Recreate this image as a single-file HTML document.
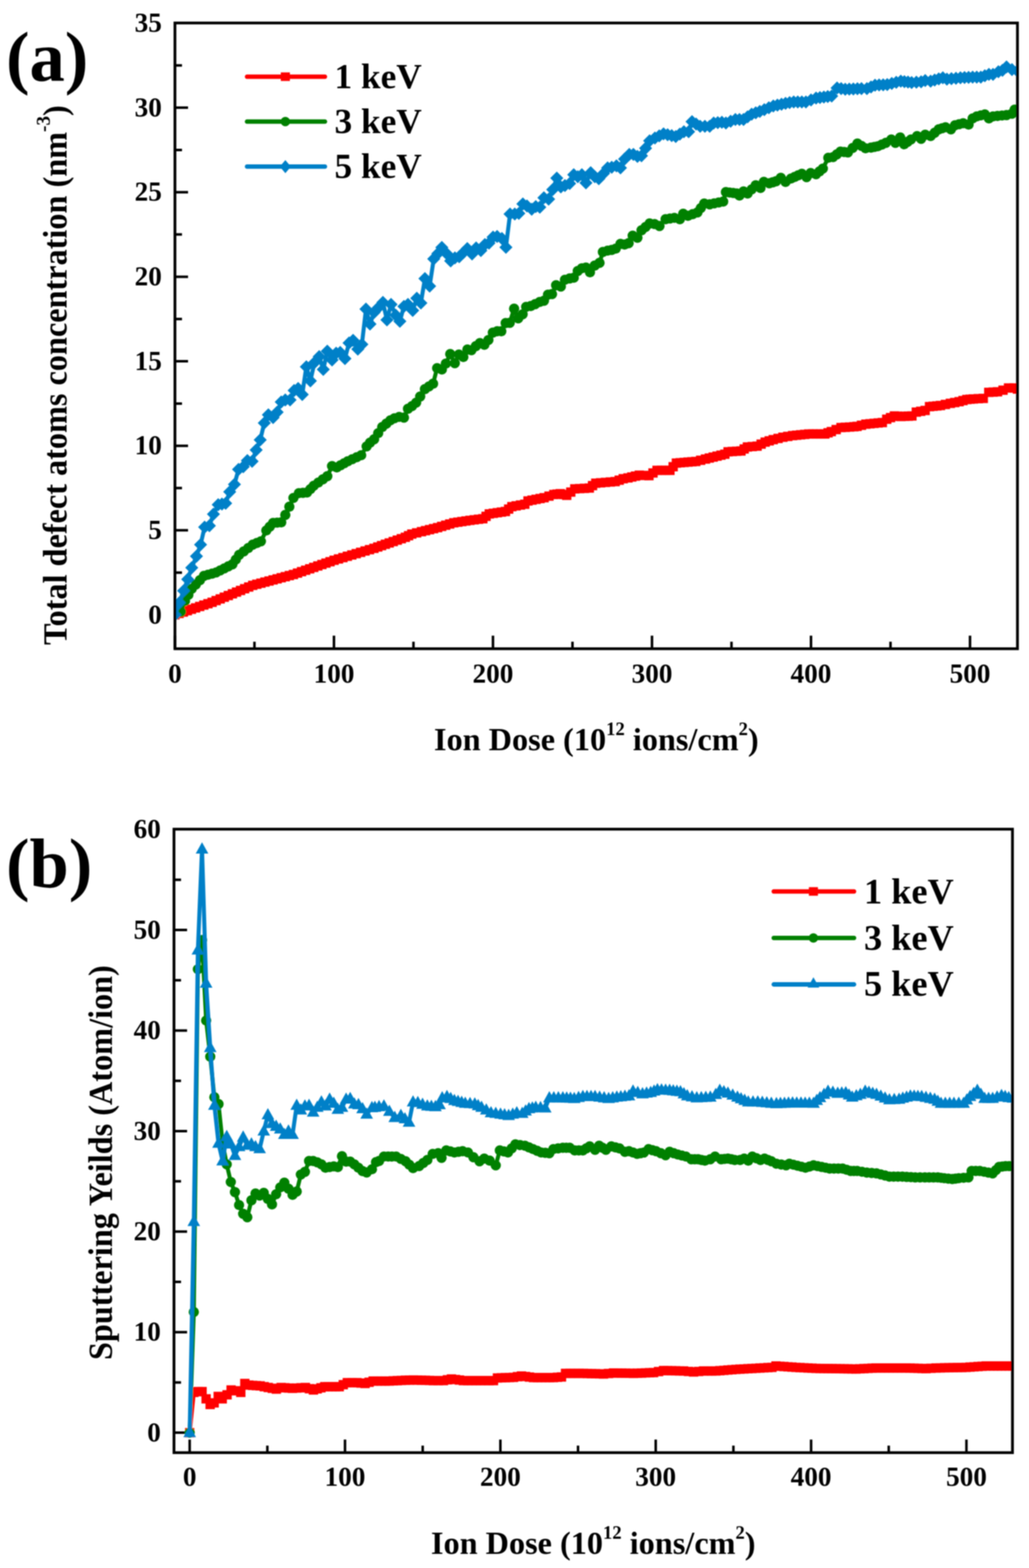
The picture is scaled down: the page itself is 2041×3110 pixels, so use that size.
<!DOCTYPE html>
<html lang="en"><head><meta charset="utf-8"><title>Defect concentration and sputtering yields vs ion dose</title>
<style>
html,body{margin:0;padding:0;background:#fff;}
body{width:2041px;height:3110px;overflow:hidden;}
svg{display:block;}
text{font-family:"Liberation Serif",serif;font-weight:bold;fill:#000;}
.tk{font-size:54px;}
.xt{font-size:64px;}
.yt{font-size:64px;}
.la{font-size:70px;}
.lb{font-size:72px;}
.pl{font-size:140px;}
.fr{fill:none;stroke:#000;stroke-width:5.5;stroke-linejoin:miter;}
.ti{fill:none;stroke:#000;stroke-width:5;stroke-linecap:butt;}
.cv{fill:none;stroke-width:8;stroke-linejoin:round;stroke-linecap:round;}
.lg{fill:none;stroke-width:8.8;stroke-linecap:round;}
</style></head><body>
<svg width="2041" height="3110" viewBox="0 0 2041 3110">
<rect x="0" y="0" width="2041" height="3110" fill="#ffffff"/>
<defs>
<filter id="soft" filterUnits="userSpaceOnUse" x="0" y="0" width="2041" height="3110"><feGaussianBlur stdDeviation="0.8"/></filter>
<marker id="mS" markerUnits="userSpaceOnUse" markerWidth="20" markerHeight="20" refX="10" refY="10" overflow="visible"><rect x="0.75" y="0.75" width="18.5" height="18.5" fill="#ff0000"/></marker>
<marker id="mC" markerUnits="userSpaceOnUse" markerWidth="24" markerHeight="24" refX="12" refY="12" overflow="visible"><circle cx="12" cy="12" r="10.2" fill="#008000"/></marker>
<marker id="mD" markerUnits="userSpaceOnUse" markerWidth="30" markerHeight="30" refX="15" refY="15" overflow="visible"><path d="M15 2 L28 15 L15 28 L2 15 Z" fill="#0080c8"/></marker>
<marker id="mT" markerUnits="userSpaceOnUse" markerWidth="30" markerHeight="30" refX="15" refY="15" overflow="visible"><path d="M15 1.5 L27.5 23.8 L2.5 23.8 Z" fill="#0080c8"/></marker>
<clipPath id="ca"><rect x="347" y="45.6" width="1671" height="1240.7"/></clipPath>
<clipPath id="cb"><rect x="345.1" y="1644.6" width="1663.2" height="1236.4"/></clipPath>
</defs>
<g filter="url(#soft)">
<g id="plot-a">
<path class="ti" d="M347 1219.5 h26 M347 1051.8 h26 M347 884.2 h26 M347 716.5 h26 M347 548.9 h26 M347 381.2 h26 M347 213.6 h26 M347 1135.7 h14 M347 968 h14 M347 800.4 h14 M347 632.7 h14 M347 465.1 h14 M347 297.4 h14 M347 129.8 h14 M347 1286.7 v-26 M662.4 1286.7 v-26 M977.8 1286.7 v-26 M1293.2 1286.7 v-26 M1608.6 1286.7 v-26 M1924 1286.7 v-26 M504.7 1286.7 v-14 M820.1 1286.7 v-14 M1135.5 1286.7 v-14 M1450.9 1286.7 v-14 M1766.3 1286.7 v-14"/>
<g clip-path="url(#ca)">
<polyline class="cv" stroke="#ff0000" marker-start="url(#mS)" marker-mid="url(#mS)" marker-end="url(#mS)" points="347,1219.5 355.2,1216.7 363.4,1214 371.6,1211.2 379.7,1208.4 387.9,1205.7 396.1,1202.9 404.3,1200.1 412.5,1197.4 420.7,1194.6 428.7,1191.2 436.8,1187.9 444.9,1184.5 452.9,1181.2 461,1177.8 469.1,1174.4 477.1,1171.1 485.2,1167.7 493.3,1164.3 501.3,1161 509.4,1158.8 517.5,1156.7 525.5,1154.5 533.6,1152.4 541.7,1150.2 549.7,1148.1 557.8,1145.9 565.9,1143.8 573.9,1141.6 582,1139.5 590.1,1136.7 598.1,1133.8 606.2,1131 614.3,1128.2 622.3,1125.4 630.4,1122.5 638.5,1119.7 646.5,1116.9 654.6,1114.1 662.7,1111.2 671.4,1108.6 680.2,1106 689,1103.3 697.8,1100.7 706.6,1098.1 715.3,1095.5 724.1,1092.8 732.9,1090.2 741.7,1087.6 749.3,1084.9 756.8,1082.2 764.4,1079.5 772,1076.9 780,1074.1 788,1071.3 796,1068.5 804,1065.7 810.4,1062.5 816.8,1059.3 826.4,1056.9 836,1054.5 844,1052.5 852,1050.5 860,1048.5 868,1046.5 876,1044.1 884,1041.7 892,1039.3 900.1,1036.9 908.1,1035.7 916.1,1034.5 924.1,1033.3 932.1,1032.1 940.6,1031 949.1,1029.9 957.7,1028.9 964.1,1024.1 970.5,1019.3 978.5,1018.1 986.5,1016.9 994.5,1015.7 1002.5,1014.5 1008.9,1009.7 1015.3,1004.9 1023.8,1003.3 1032.4,1001.7 1040.9,1000.1 1047.3,993.6 1055.3,992 1063.3,990.4 1071.3,988.8 1079.3,987.2 1088.9,984 1098.5,980.8 1104.9,980 1111.3,979.2 1117.7,980.8 1124.1,982.4 1132.1,976 1140.1,969.6 1149.7,969.1 1159.3,968.6 1168.9,968 1175.3,963.2 1181.7,958.4 1191.3,957.6 1200.9,956.8 1210.6,956 1220.2,955.2 1228.2,952.4 1236.2,949.5 1245.6,947.9 1253.1,946.1 1260.5,944.3 1268,942.5 1277.6,943 1287.2,943.4 1295.2,938.1 1303.2,932.9 1311.8,932.9 1320.3,932.9 1328.8,932.9 1335.2,925.7 1341.6,918.5 1349.3,917.8 1357,917.2 1364.7,916.5 1372.4,915.9 1380.1,915.3 1389.7,912.9 1399.3,910.5 1406.9,908.5 1414.6,906.6 1422.3,904.7 1430,902.8 1437.7,900.9 1444.1,896.1 1452.6,895.5 1461.1,895 1469.7,894.5 1476.1,890.5 1482.5,886.5 1492.1,885.7 1501.7,884.9 1509.7,880.9 1517.7,876.9 1525.7,874.4 1533.7,872 1543.3,869.6 1552.9,867.2 1562.5,865.6 1572.1,864 1580.1,863.2 1588.1,862.4 1596.1,861.6 1604.1,860.8 1612.1,860.8 1620.1,860.8 1628.1,860.8 1636.1,860.8 1642.5,858.4 1648.9,856 1658.5,852 1668.1,848 1676.7,847.5 1685.2,847 1693.8,846.4 1700,845.7 1708.7,843.5 1717.4,841.3 1725.6,840.5 1733.7,839.7 1741.9,838.9 1750.1,838.1 1758.8,831.5 1766.4,828.3 1774,825 1780.5,825.6 1787.1,826.1 1794.3,825.7 1801.6,825.4 1808.8,825 1817.5,817.4 1826.2,815.8 1835,814.1 1843.7,806.5 1850.9,805.8 1858.2,805.1 1865.4,804.3 1875.2,802.2 1885,800 1893.7,798.4 1902.4,796.7 1910.1,794.5 1917.7,792.4 1924.2,791.8 1930.7,791.3 1940.5,790.7 1950.3,790.2 1961.2,778.2 1969.9,777.7 1978.6,777.1 1989.5,773.9 2000.4,769.5 2011.3,769.5 2018.1,771.7"/>
<polyline class="cv" stroke="#008000" marker-start="url(#mC)" marker-mid="url(#mC)" marker-end="url(#mC)" points="347,1219.5 358.8,1213.4 366.9,1191.9 373.6,1179.8 380.3,1167.7 388.4,1159.2 396.5,1150.7 404.5,1142.2 412.6,1139.9 420.7,1137.7 428.7,1135.4 436.8,1131.4 444.9,1127.4 452.9,1123.3 461,1119.3 467.7,1109.9 474.4,1100.5 483.4,1093.8 492.4,1087 501.3,1080.3 509.4,1077 517.5,1073.6 528.2,1052.1 534.9,1044.7 541.7,1037.3 549.7,1036.6 557.8,1036 565.9,1021.2 573.9,1005 582,987.6 592.8,978.1 600.8,977.5 608.9,976.8 615.6,970.1 622.3,963.4 631.3,957.1 640.3,950.8 649.2,944.5 658.6,924.4 668,927.1 675.2,923 682.4,919 689.6,915 698.5,910.9 707.5,906.9 716.4,902.9 727.2,885.4 733.9,878 742,871.2 750.1,859.1 758.1,847 766.2,840.3 774.3,833.6 782.3,829.6 791.7,826.9 801.2,828.2 809.2,810.7 817.3,805.4 825.4,798.6 833.4,786.5 842.8,771.7 850.9,766.4 859,761 867,730.1 876.4,732.8 884.3,721.1 893,702.3 902.1,720.4 910.2,703.3 919,708.1 927.1,693.3 935.1,694.6 943.9,686.5 951.9,680.5 960.7,683.9 968.7,674.4 977.5,659.7 986.2,657 994.3,657 1003,640.8 1011.1,640.2 1019.7,612.3 1027.9,631.4 1036.6,623.4 1043.6,608.6 1052.7,607 1061.4,603.3 1070.5,598.9 1078.9,596.5 1087,584.4 1094.9,583.2 1103,565.7 1112.4,568.4 1120.5,554.9 1129.9,552.2 1138,550.9 1146,537.5 1154.1,532.1 1162.2,530.7 1170.2,540.1 1179.6,526.7 1189.1,521.3 1195.8,499.8 1205.2,497.1 1213.3,495.8 1221.3,493.1 1230.7,483.7 1238.8,485 1246.9,482.3 1254.9,467.5 1264.3,471.6 1272.4,456.8 1280.5,450.1 1288.5,443.3 1298.3,444.4 1308.1,448.2 1320.2,434.8 1328.9,433.4 1337.6,432.1 1348.4,434.8 1355.1,424 1364.5,428 1373.9,424.7 1383.4,421.3 1390.1,412.6 1396.8,403.8 1407.6,405.2 1416.5,403.4 1425.5,401.6 1434.4,399.8 1439.8,381 1447,381.9 1454.2,382.8 1461.3,383.7 1466.7,387.7 1474.8,379.6 1482.8,383.7 1490.9,375.6 1499,367.5 1508.4,372.9 1515.1,360.8 1525.9,363.5 1532.6,361.5 1539.3,359.5 1548.7,352.8 1558.1,360.8 1568.9,354.1 1576.1,351 1583.2,347.8 1590.4,344.7 1599.8,351.4 1607.9,343.3 1618.6,345.6 1625.4,340 1632.1,334.4 1642.9,312.9 1652.3,311.6 1659.7,306.2 1667.1,300.8 1674.4,301.5 1681.8,302.2 1691.3,293.4 1700.7,284.7 1708.7,289.4 1716.8,294.1 1727.6,292.8 1734.3,291.4 1741,290.1 1749.1,286.7 1757.1,283.3 1767.9,276.6 1776,283.3 1785.4,272.6 1793.4,286 1800.2,281.3 1806.9,276.6 1819,269.9 1827,275.3 1835.1,267.2 1845.9,269.9 1853.9,263.2 1862,256.5 1868.7,254.4 1875.4,252.4 1886.2,256.5 1894.3,248.4 1902.3,246.4 1910.4,244.4 1921.2,247 1929.2,234.9 1937.3,230.9 1945.4,228.9 1953.4,226.9 1961.5,234.9 1969.6,230.9 1978.5,230 1987.5,229.1 1996.4,228.2 2007.2,225.5 2012.6,217.5 2018.1,217.5"/>
<polyline class="cv" stroke="#0080c8" marker-start="url(#mD)" marker-mid="url(#mD)" marker-end="url(#mD)" points="347,1219.5 355.6,1195.6 364.2,1171.7 372.3,1148.9 380.3,1126 389.7,1103.2 397.8,1080.3 405.9,1045.4 415.3,1042.7 423.4,1019.8 432.8,1001 440.2,999.7 447.6,998.3 455.6,975.5 465,960.7 473.1,931.1 482.5,925.7 490.6,913.6 500,915 508.1,892.4 516.1,872.6 524.2,839 532.3,822.8 541.7,828.2 549.7,817.5 557.8,797.3 565.9,793.3 575.3,793.3 583.4,774.4 591.4,770.4 599.5,782.5 607.6,727.4 615.6,755.6 623.7,719.3 633.1,707.2 641.2,732.8 649.2,696.5 658.6,713.9 666.7,700.5 674.8,699.1 684.2,711.2 692.3,680.3 700.3,674.9 709.7,692.4 717.8,683 725.9,613.1 733.9,642.7 742,619.8 750.1,610.4 759.5,599.7 767.5,634.6 775.6,603.7 785,625.2 793.1,637.3 801.2,607.7 809.2,603.7 818.6,615.8 826.7,591.6 834.8,601 842.8,552.6 852.2,567.4 860.3,513.6 868.4,502.9 876.4,490.8 885.9,502.9 893.9,517.6 902.3,511.4 910.8,509.2 918.8,501.2 926.9,493.1 936.3,503.8 944.4,491.7 953.8,497.1 961.8,485 969.9,482.3 978,470.2 986,468.9 995.5,472.9 1003.5,490.4 1011.6,424.5 1021,424.5 1029.1,423.2 1037.1,404.4 1045.2,408.4 1054.6,415.1 1062.7,409.7 1070.7,411.1 1078.8,392.3 1088.2,394.9 1096.3,376.1 1104.4,353.3 1112.4,370.7 1120.5,368.1 1129.9,364 1138,346.5 1146,350.6 1154.1,346.5 1162.2,362.7 1171.6,342.5 1179.6,350.6 1187.7,354.6 1197.1,343.9 1205.2,333.1 1213.3,331.8 1222.7,329.1 1230.7,333.1 1238.8,315.6 1248.2,306.2 1256.3,306.2 1264.3,310.2 1272.4,308.9 1280.5,294.1 1288.5,279.3 1299,273.7 1307.6,269.5 1316.1,265.4 1324.2,267.2 1332.3,269 1340.3,270.7 1348.4,266 1356.5,261.3 1365.9,261.3 1372.6,241.2 1380.7,245.9 1388.7,250.6 1398.1,250.6 1407.6,250.6 1415.6,243.9 1423.7,243.2 1431.8,242.5 1439.8,243.9 1449.2,240.5 1458.6,237.1 1466.7,237.1 1474.8,237.1 1482.8,231.8 1490.9,226.4 1499,223.7 1507,221 1516,217.4 1525,213.8 1533.9,210.2 1542,208.5 1550.1,206.7 1558.1,204.9 1566.2,203.5 1574.3,202.2 1582.3,202.2 1590.4,202.2 1598.5,202.2 1608.6,198.3 1618.6,194.4 1626.4,193.4 1634.1,192.5 1641.8,191.5 1649.6,190.6 1660.3,174.4 1668.4,175.8 1676.5,177.1 1684.5,176.8 1692.6,176.5 1700.7,176.1 1708.7,175.8 1719.5,175.8 1727.6,172.4 1735.6,169.1 1743.7,168.6 1751.8,168.2 1759.8,167.7 1768.8,165.5 1777.7,163.2 1786.7,161 1793.9,161.9 1801,162.8 1808.2,163.7 1817.6,163 1827,162.3 1835.1,159.7 1845.9,161 1853.9,158.8 1862,156.5 1870.1,154.3 1878.1,157 1887.1,156.1 1896.1,155.2 1905,154.3 1913.1,153.8 1921.2,153.4 1929.2,152.9 1937.3,152.9 1945.4,152.9 1953.4,150.2 1961.5,147.6 1969.6,147.6 1980.3,142.2 1988.4,139.5 1996.4,132.8 2007.2,138.1 2018.1,140.8"/>
</g>
<rect class="fr" x="347" y="45.6" width="1671.1" height="1241.1"/>
<text class="tk" text-anchor="end" x="320.9" y="1236.7">0</text>
<text class="tk" text-anchor="end" x="320.9" y="1069">5</text>
<text class="tk" text-anchor="end" x="320.9" y="901.4">10</text>
<text class="tk" text-anchor="end" x="320.9" y="733.8">15</text>
<text class="tk" text-anchor="end" x="320.9" y="566.1">20</text>
<text class="tk" text-anchor="end" x="320.9" y="398.4">25</text>
<text class="tk" text-anchor="end" x="320.9" y="230.8">30</text>
<text class="tk" text-anchor="end" x="320.9" y="63.2">35</text>
<text class="tk" text-anchor="middle" x="347" y="1354">0</text>
<text class="tk" text-anchor="middle" x="662.4" y="1354">100</text>
<text class="tk" text-anchor="middle" x="977.8" y="1354">200</text>
<text class="tk" text-anchor="middle" x="1293.2" y="1354">300</text>
<text class="tk" text-anchor="middle" x="1608.6" y="1354">400</text>
<text class="tk" text-anchor="middle" x="1924" y="1354">500</text>
<text class="xt" text-anchor="middle" x="1182.8" y="1487.6">Ion Dose (10<tspan font-size="37" dy="-30">12</tspan><tspan dy="30"> ions/cm</tspan><tspan font-size="37" dy="-30">2</tspan><tspan dy="30">)</tspan></text>
<text class="yt" text-anchor="middle" transform="translate(132.1 744) rotate(-90) scale(1 1.055)">Total defect atoms concentration (nm<tspan font-size="38" dy="-31">-3</tspan><tspan dy="31">)</tspan></text>
<text class="pl" x="12" y="160.4">(a)</text>
<path class="lg" stroke="#ff0000" d="M490 152.1 H644.5"/>
<rect x="557" y="143.6" width="18" height="17" fill="#ff0000"/>
<text class="la" x="663.6" y="174.8">1 keV</text>
<path class="lg" stroke="#008000" d="M490 241.2 H644.5"/>
<circle cx="566" cy="241.2" r="9.4" fill="#008000"/>
<text class="la" x="663.6" y="264">3 keV</text>
<path class="lg" stroke="#0080c8" d="M490 330.4 H644.5"/>
<path d="M566 317.4 l11 13 l-11 13 l-11 -13 Z" fill="#0080c8"/>
<text class="la" x="663.6" y="353.2">5 keV</text>
</g>
<g id="plot-b">
<path class="ti" d="M345.1 2841.6 h26 M345.1 2642.2 h26 M345.1 2442.8 h26 M345.1 2243.4 h26 M345.1 2044 h26 M345.1 1844.6 h26 M345.1 2741.9 h14 M345.1 2542.5 h14 M345.1 2343.1 h14 M345.1 2143.7 h14 M345.1 1944.3 h14 M345.1 1744.9 h14 M376.2 2881.2 v-26 M684.3 2881.2 v-26 M992.5 2881.2 v-26 M1300.6 2881.2 v-26 M1608.8 2881.2 v-26 M1916.9 2881.2 v-26 M530.3 2881.2 v-14 M838.4 2881.2 v-14 M1146.5 2881.2 v-14 M1454.7 2881.2 v-14 M1762.8 2881.2 v-14"/>
<g clip-path="url(#cb)">
<polyline class="cv" stroke="#ff0000" marker-start="url(#mS)" marker-mid="url(#mS)" marker-end="url(#mS)" points="376.2,2841.6 384.5,2761.7 392.8,2760.1 400.8,2760.1 408.8,2774.5 416.8,2785.7 424.8,2782.5 432.8,2769.7 440.8,2774.5 450.4,2766.5 458.4,2756.9 468,2758.5 477.6,2761.7 485.6,2744 493.6,2747.2 501.1,2747.8 508.6,2748.3 516.1,2748.8 524.1,2750.4 532.1,2752 540.1,2753.6 548.1,2755.2 557.7,2752 565.1,2752.6 572.6,2753.1 580.1,2753.6 588.6,2753.1 597.1,2752.6 605.7,2752 613.7,2754.4 621.7,2756.9 629.2,2754.7 636.6,2752.6 644.1,2750.4 651.3,2750.4 658.5,2750.4 665.7,2750.4 672.9,2750.4 680.9,2746.4 688.9,2742.4 698.5,2742.4 708.1,2742.4 716.1,2743.2 724.1,2744 732.1,2741.6 740.1,2739.2 748.1,2739.2 756.1,2739.2 764.1,2739.2 772.1,2739.2 780.1,2738.8 788.1,2738.4 796.1,2738 804.1,2737.6 812.1,2737.4 820,2737.1 827.9,2737.3 835.9,2737.6 843.8,2737.8 851.8,2738 859.7,2738.3 869.6,2738.3 879.5,2738.3 887.5,2736.7 895.4,2735.1 903.4,2736.2 911.3,2737.2 919.2,2738.3 927.7,2738.3 936.2,2738.3 944.7,2738.3 953.3,2738.3 961.8,2738.3 970.3,2738.3 978.8,2738.3 986.7,2733.1 994.6,2732.8 1002.6,2732.5 1010.5,2732.2 1018.5,2731.9 1026.4,2730.5 1034.3,2729.2 1042.3,2730.2 1050.2,2731.3 1058.2,2732.3 1066.1,2732.3 1074,2732.3 1082,2732.3 1089.9,2732.3 1097.8,2732.3 1105.8,2731.7 1113.7,2731.1 1121.7,2724 1130.6,2724 1139.5,2724 1148.5,2724 1157.4,2724 1165.3,2724.2 1173.3,2724.5 1181.2,2724.7 1189.1,2724.9 1197.1,2725.2 1207,2724.2 1216.9,2723.2 1224.9,2723.4 1232.8,2723.5 1240.7,2723.7 1248.7,2723.8 1256.6,2724 1264.6,2723.7 1272.5,2723.4 1280.4,2723 1288.4,2722.7 1296.3,2722.4 1306.2,2720.4 1316.2,2718.4 1324.1,2718.6 1332,2718.8 1340,2718.9 1347.9,2719.1 1355.9,2719.2 1365.8,2720.2 1375.7,2721.2 1385.6,2720.2 1395.5,2719.2 1403.7,2719.2 1411.8,2719.2 1420,2719.2 1427.9,2718.6 1435.9,2718 1443.8,2717.3 1451.8,2716.7 1459.7,2716.1 1467.6,2715.6 1475.6,2715.2 1483.5,2714.7 1491.4,2714.3 1499.4,2713.9 1507.3,2713.4 1515.3,2713 1523.2,2712.5 1531.1,2712.1 1539.1,2709.3 1547,2709.9 1555,2710.4 1562.9,2711 1570.8,2711.5 1578.8,2712.1 1586.7,2712.5 1594.6,2712.9 1602.6,2713.3 1610.5,2713.7 1618.5,2714.1 1626.4,2714.2 1634.3,2714.3 1642.3,2714.4 1650.2,2714.5 1658.2,2714.7 1666.1,2714.8 1674,2714.9 1682,2715 1689.9,2715.1 1697.8,2715.3 1705.8,2714.9 1713.7,2714.5 1721.7,2714.1 1729.6,2713.7 1737.5,2713.3 1746,2713.3 1754.6,2713.3 1763.1,2713.3 1771.6,2713.3 1780.1,2713.3 1788.6,2713.3 1797.1,2713.3 1805,2713.5 1813,2713.8 1820.9,2714 1828.8,2714.2 1836.8,2714.5 1846.7,2713.9 1856.6,2713.3 1865.1,2713.1 1873.6,2712.9 1882.1,2712.8 1890.6,2712.6 1899.1,2712.4 1907.7,2712.3 1916.2,2712.1 1924.1,2711.5 1932,2711 1940,2710.4 1947.9,2709.9 1955.9,2709.3 1963.5,2709.3 1971.1,2709.3 1978.8,2709.3 1986.4,2709.3 1994,2709.3 2001.7,2709.3 2009.3,2709.3"/>
<polyline class="cv" stroke="#008000" marker-start="url(#mC)" marker-mid="url(#mC)" marker-end="url(#mC)" points="376.2,2841.6 384.4,2602.3 392.5,1922.4 400.7,1864.5 408.9,2024.1 417,2095.8 425.2,2176.3 433.4,2189.7 441.5,2266.4 449.7,2309.4 457.8,2344.4 466,2364.5 474.2,2390.1 482.3,2407.5 490.5,2414.3 498.7,2380.7 506.8,2367.2 515,2371.2 523.2,2365.9 531.3,2378 539.5,2388.7 547.7,2368.6 555.8,2355.1 564,2345.7 572.2,2357.8 580.3,2369.9 588.5,2363.2 596.7,2329.6 604.8,2324.2 613,2302.7 621.1,2302.7 629.3,2305.4 637.5,2309.4 645.6,2316.1 653.8,2314.8 662,2313.4 670.1,2314.8 678.3,2293.3 686.5,2304 694.6,2304 702.8,2309.4 711,2316.1 719.1,2322.8 727.3,2325.5 737.7,2319.1 745.8,2305 751.8,2302.7 761.5,2293.9 769.6,2293.9 777.6,2293.9 785.7,2293.9 795.1,2298.6 804.5,2303.3 811.9,2310.1 819.3,2316.8 831.4,2312.8 839.5,2306.7 847.6,2300.7 858.3,2288.6 869.1,2287.2 875.8,2296.6 885.2,2281.8 893.3,2283.8 901.3,2285.9 909.4,2284.5 917.5,2283.2 928.2,2285.9 939,2295.3 951.1,2303.3 960.5,2298 971.2,2302 983.3,2311.4 991.4,2281.8 999.5,2283.8 1007.5,2285.9 1014.9,2277.8 1022.3,2269.7 1031.7,2271.1 1041.2,2272.4 1049.2,2275.8 1057.3,2279.1 1065.4,2282.5 1073.4,2285.9 1081.5,2286.5 1089.6,2287.2 1097.6,2279.1 1107,2277.8 1116.4,2276.5 1123.2,2276.5 1129.9,2276.5 1140,2281.8 1148.1,2281.8 1156.1,2281.8 1162.9,2277.8 1169.6,2273.8 1180.3,2280.5 1188.4,2272.4 1195.1,2276.5 1201.8,2280.5 1212.6,2273.8 1220.7,2275.8 1228.7,2277.8 1239.5,2284.5 1247.6,2283.2 1255.6,2285.9 1263.7,2288.6 1270.4,2287.2 1277.1,2285.9 1286.5,2279.1 1293.9,2281.2 1301.3,2283.2 1310.7,2287.2 1320.2,2291.2 1328.2,2284.5 1336.3,2287.2 1344.4,2289.9 1352.4,2291.9 1360.5,2293.9 1371.2,2299.3 1378,2299.3 1384.7,2299.3 1391.4,2300.7 1398.1,2302 1408.9,2299.3 1418.3,2293.9 1430.4,2299.3 1437.1,2298.6 1443.8,2298 1450.6,2299.3 1457.3,2300.7 1468,2300.7 1476.1,2298 1484.2,2302 1492.2,2293.9 1500.3,2297.3 1508.4,2300.7 1516.4,2298 1523.2,2300.7 1529.9,2303.3 1540,2308.1 1549.6,2309.7 1559.2,2311.3 1565.6,2308.1 1573.6,2310.1 1581.6,2312.1 1589.6,2314.1 1597.6,2316.1 1605.6,2313.7 1613.6,2311.3 1621.6,2312.9 1629.6,2314.5 1637.6,2316.1 1645.6,2317.7 1654.2,2317.7 1662.7,2317.7 1671.2,2317.7 1679.2,2320.1 1687.2,2322.5 1693.6,2322.5 1700.1,2322.5 1709.7,2324.1 1719.3,2325.7 1728.9,2326.5 1738.5,2327.3 1747,2329.4 1755.5,2331.5 1764.1,2333.7 1772.6,2333.7 1781.1,2333.7 1789.7,2333.7 1798.2,2334.2 1806.8,2334.7 1815.3,2335.3 1824.9,2335.3 1834.5,2335.3 1843,2335.3 1851.6,2335.3 1860.1,2335.3 1866.5,2336.1 1872.9,2336.9 1880.9,2337.7 1888.9,2338.5 1895.3,2337.7 1901.7,2336.9 1911.3,2336.1 1920.9,2335.3 1927.3,2322.5 1935.3,2322.5 1943.3,2322.5 1951.9,2324.1 1960.4,2325.7 1968.9,2327.3 1975.3,2320.9 1981.7,2314.5 1988.1,2313.7 1994.5,2312.9 2001.9,2312.9 2009.3,2312.9"/>
<polyline class="cv" stroke="#0080c8" marker-start="url(#mT)" marker-mid="url(#mT)" marker-end="url(#mT)" points="376.2,2841.6 384.4,2422.9 392.5,1884.5 400.7,1684.1 408.9,1950.3 417,2077.9 425.2,2192.4 433.4,2267.7 441.5,2302.7 449.7,2254.3 457.8,2269.1 466,2291.9 474.2,2274.4 482.3,2255.6 490.5,2271.8 498.7,2269.1 506.8,2274.4 515,2278.5 523.2,2243.5 531.3,2211.3 539.5,2228.7 547.7,2234.1 555.8,2239.5 564,2250.2 572.2,2243.5 580.3,2250.2 588.5,2192.4 596.7,2201.8 604.8,2193.8 613,2192.4 621.1,2205.9 629.3,2196.5 637.5,2185.7 645.6,2193.8 653.8,2180.3 662,2188.4 670.1,2200.5 678.3,2196.5 686.5,2180.3 694.6,2179 702.8,2189.7 711,2191.1 719.1,2199.2 727.3,2209.9 737.7,2197.1 743.6,2196.5 751.8,2195.1 761.5,2193.8 772.3,2204.5 783,2216.6 795.1,2212.6 803.2,2219.3 811.3,2226 819.3,2185.7 828.7,2187 838.1,2190.4 847.6,2193.8 855.6,2194.4 863.7,2195.1 871.8,2191.1 877.1,2177.6 886.5,2174.9 893.9,2179 901.3,2183 908.5,2184.8 915.7,2186.6 922.8,2188.4 932.3,2189 941.7,2189.7 948.4,2193.1 955.1,2196.4 964.5,2201.8 973.9,2207.2 983.3,2208.5 992.8,2209.9 1000.8,2211.2 1008.9,2212.6 1017,2209.9 1025,2207.2 1035.8,2208.5 1042.5,2203.8 1049.2,2199.1 1055.9,2197.8 1062.7,2196.4 1072.1,2197.1 1081.5,2197.8 1089.6,2177.6 1098.5,2177.6 1107.5,2177.6 1116.4,2177.6 1124,2178.1 1131.5,2178.5 1139,2179 1147.6,2176.9 1156.1,2174.9 1164.2,2174.9 1172.3,2174.9 1180.3,2174.9 1189.3,2176.3 1198.3,2177.6 1207.2,2179 1215.3,2177.6 1223.4,2176.3 1231.4,2175.4 1239.5,2174.5 1247.6,2173.6 1255.6,2164.2 1265,2166.9 1274.4,2169.6 1282.5,2168.2 1290.6,2166.9 1297.3,2164.2 1304,2161.5 1312.1,2161.9 1320.2,2162.4 1328.2,2162.8 1335.4,2163.7 1342.6,2164.6 1349.7,2165.5 1356.5,2169.6 1363.2,2173.6 1372.6,2175.6 1382,2177.6 1391,2177.2 1399.9,2176.7 1408.9,2176.3 1419.6,2170.9 1427.7,2162.8 1435.8,2165.5 1443.8,2168.2 1453.3,2172.2 1462.7,2176.3 1469.8,2179.4 1477,2182.6 1484.2,2185.7 1493.6,2185.7 1503,2185.7 1512,2186.6 1520.9,2187.5 1529.9,2188.4 1540,2189.1 1548,2188.7 1556,2188.4 1564,2188.1 1572,2187.8 1580.3,2187.9 1588.7,2188 1597,2188.2 1605.3,2188.3 1613.6,2188.4 1620,2182.8 1626.4,2177.2 1634.4,2170.8 1642.4,2164.4 1652,2166.5 1661.6,2168.6 1669.6,2168.1 1677.6,2167.6 1684,2171.9 1690.4,2176.3 1698.5,2173.5 1706.5,2170.8 1716.1,2164.4 1723.5,2166.6 1731,2168.7 1738.5,2170.8 1747,2174.3 1755.5,2177.9 1764.1,2181.4 1773.7,2180.9 1783.3,2180.4 1790.7,2178.3 1798.2,2176.2 1805.7,2174 1813.2,2174.3 1820.6,2174.7 1828.1,2175 1836.6,2176.8 1845.2,2178.6 1853.7,2180.4 1860.1,2184.4 1866.5,2188.4 1875,2188.4 1883.6,2188.4 1892.1,2188.4 1901.7,2188.4 1911.3,2188.4 1917.7,2181.7 1924.1,2175 1931.3,2168.9 1938.5,2162.8 1945.7,2170.8 1952.9,2178.8 1960.9,2178.8 1968.9,2178.8 1977.7,2175.9 1986.5,2173.1 1993.7,2175.1 2000.9,2177.2 2009.3,2178.2"/>
</g>
<rect class="fr" x="345.1" y="1644.6" width="1663.1" height="1236.6"/>
<text class="tk" text-anchor="end" x="319" y="2858.8">0</text>
<text class="tk" text-anchor="end" x="319" y="2659.4">10</text>
<text class="tk" text-anchor="end" x="319" y="2460">20</text>
<text class="tk" text-anchor="end" x="319" y="2260.6">30</text>
<text class="tk" text-anchor="end" x="319" y="2061.2">40</text>
<text class="tk" text-anchor="end" x="319" y="1861.8">50</text>
<text class="tk" text-anchor="end" x="319" y="1662.4">60</text>
<text class="tk" text-anchor="middle" x="376.2" y="2947">0</text>
<text class="tk" text-anchor="middle" x="684.3" y="2947">100</text>
<text class="tk" text-anchor="middle" x="992.5" y="2947">200</text>
<text class="tk" text-anchor="middle" x="1300.6" y="2947">300</text>
<text class="tk" text-anchor="middle" x="1608.8" y="2947">400</text>
<text class="tk" text-anchor="middle" x="1916.9" y="2947">500</text>
<text class="xt" text-anchor="middle" x="1176.7" y="3081.6">Ion Dose (10<tspan font-size="37" dy="-30">12</tspan><tspan dy="30"> ions/cm</tspan><tspan font-size="37" dy="-30">2</tspan><tspan dy="30">)</tspan></text>
<text class="yt" text-anchor="middle" transform="translate(222 2306) rotate(-90) scale(1 1.055)">Sputtering Yeilds (Atom/ion)</text>
<text class="pl" x="12" y="1760">(b)</text>
<path class="lg" stroke="#ff0000" d="M1534.7 1768.1 H1694"/>
<rect x="1604.4" y="1759.6" width="18" height="17" fill="#ff0000"/>
<text class="lb" x="1713.8" y="1792.2">1 keV</text>
<path class="lg" stroke="#008000" d="M1534.7 1860.3 H1694"/>
<circle cx="1613.4" cy="1860.3" r="9.4" fill="#008000"/>
<text class="lb" x="1713.8" y="1883.8">3 keV</text>
<path class="lg" stroke="#0080c8" d="M1534.7 1952.5 H1694"/>
<path d="M1613.4 1938.2 l11.5 20.5 h-23 Z" fill="#0080c8"/>
<text class="lb" x="1713.8" y="1975.3">5 keV</text>
</g>
</g>
</svg>
</body></html>
